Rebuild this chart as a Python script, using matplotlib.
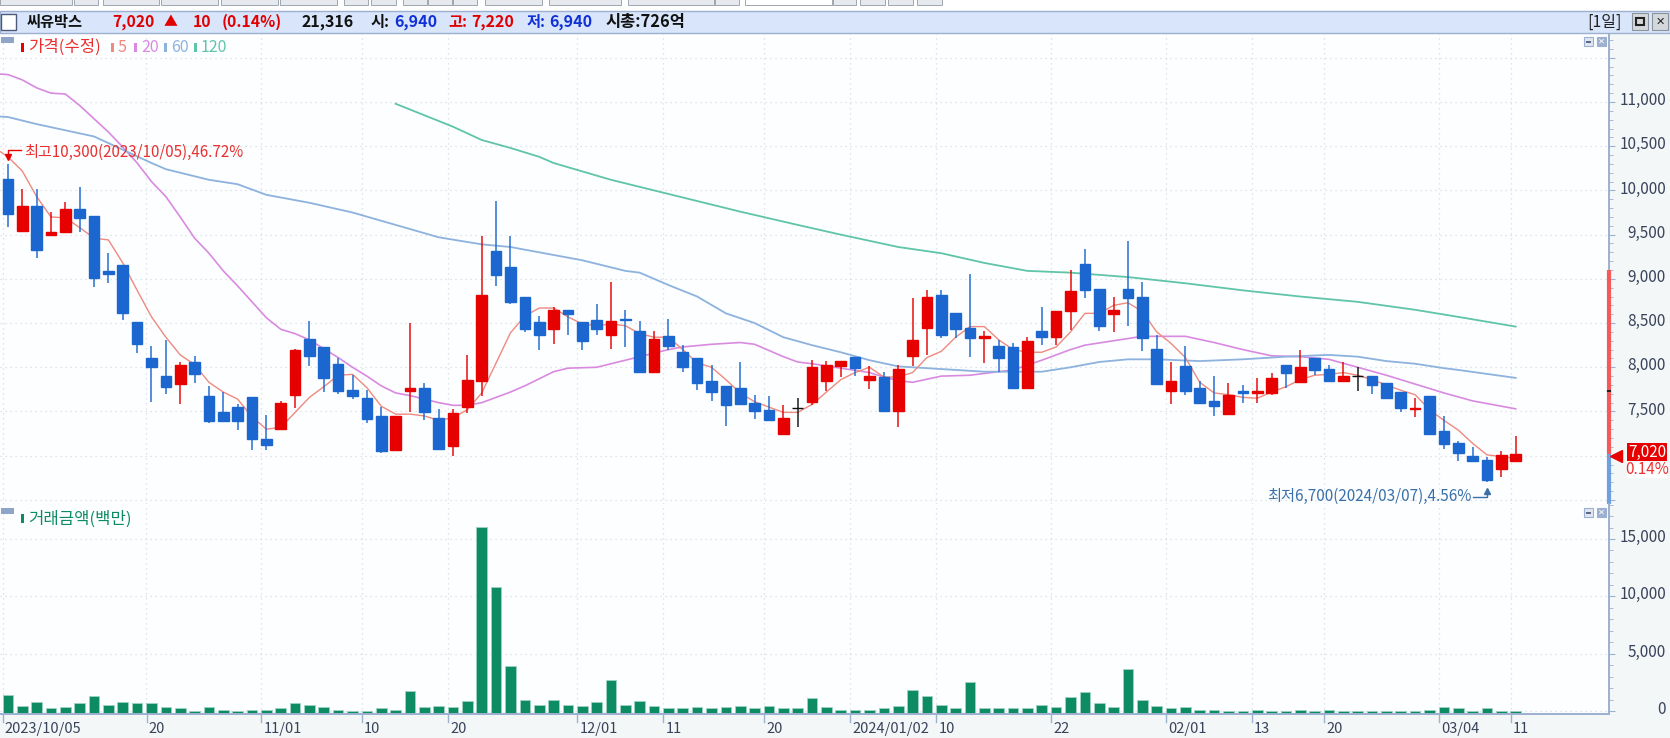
import matplotlib
matplotlib.use('Agg')
import matplotlib.pyplot as plt
from matplotlib.patches import Rectangle
from matplotlib.ticker import MultipleLocator

plt.rcParams['font.family'] = ['Noto Sans CJK KR', 'DejaVu Sans']

opens = [
  10130, 9540, 9820, 9500, 9530, 9790, 9710, 9090, 9160, 8510,
  8110, 7900, 7810, 8060, 7680, 7490, 7550, 7660, 7190, 7300,
  7690, 8320, 8230, 8040, 7740, 7650, 7450, 7070, 7730, 7770,
  7430, 7110, 7550, 7850, 9320, 9130, 8800, 8510, 8430, 8650,
  8510, 8530, 8360, 8550, 8410, 7950, 8350, 8170, 8100, 7850,
  7790, 7770, 7600, 7520, 7250, 7540, 7610, 7850, 8010, 8120,
  7860, 7890, 7510, 8130, 8440, 8820, 8610, 8440, 8330, 8240,
  8230, 7770, 8410, 8340, 8640, 9170, 8890, 8600, 8890, 8790,
  8210, 7730, 8010, 7770, 7620, 7470, 7730, 7710, 7710, 8030,
  7830, 8100, 7980, 7850, 7900, 7900, 7820, 7720, 7530, 7670,
  7280, 7140, 7000, 6950, 6850, 6940]
highs = [
  10300, 10020, 10020, 9760, 9870, 10040, 9710, 9290, 9160, 8510,
  8240, 8310, 8060, 8130, 7790, 7720, 7590, 7660, 7460, 7620,
  8210, 8520, 8230, 8100, 7910, 7740, 7550, 7450, 8500, 7820,
  7530, 7530, 8140, 9480, 9880, 9480, 8800, 8580, 8680, 8650,
  8510, 8720, 8960, 8650, 8520, 8410, 8550, 8250, 8100, 8030,
  7790, 8060, 7690, 7670, 7570, 7650, 8080, 8070, 8070, 8120,
  8020, 7950, 8030, 8780, 8870, 8870, 8610, 9060, 8410, 8310,
  8270, 8340, 8680, 8640, 9100, 9340, 8890, 8800, 9430, 8960,
  8360, 8060, 8240, 7850, 7900, 7820, 7800, 7880, 7930, 8030,
  8200, 8100, 8030, 8060, 8000, 7900, 7820, 7720, 7650, 7670,
  7450, 7170, 7100, 6980, 7050, 7220]
lows = [
  9590, 9540, 9240, 9500, 9530, 9530, 8910, 8950, 8540, 8160,
  7610, 7700, 7590, 7820, 7370, 7390, 7290, 7060, 7060, 7300,
  7540, 8010, 7720, 7700, 7640, 7370, 7030, 7070, 7490, 7400,
  7080, 7000, 7480, 7680, 8920, 8710, 8400, 8200, 8260, 8360,
  8190, 8370, 8210, 8230, 7950, 7950, 8200, 7950, 7740, 7620,
  7340, 7570, 7410, 7400, 7240, 7320, 7570, 7730, 7890, 7900,
  7760, 7510, 7320, 8010, 8140, 8330, 8330, 8120, 8050, 7950,
  7770, 7770, 8250, 8250, 8420, 8780, 8410, 8400, 8470, 8180,
  7810, 7590, 7690, 7590, 7450, 7470, 7600, 7600, 7690, 7770,
  7820, 7910, 7850, 7830, 7730, 7700, 7650, 7490, 7440, 7250,
  7080, 6940, 6940, 6700, 6760, 6940]
closes = [
  9730, 9820, 9330, 9530, 9790, 9690, 9010, 9050, 8610, 8260,
  8000, 7780, 8030, 7920, 7390, 7390, 7390, 7190, 7120, 7600,
  8200, 8130, 7880, 7730, 7680, 7410, 7050, 7450, 7770, 7490,
  7080, 7480, 7860, 8820, 9040, 8740, 8430, 8360, 8650, 8600,
  8300, 8430, 8520, 8540, 7950, 8320, 8240, 8000, 7820, 7720,
  7570, 7590, 7510, 7400, 7430, 7540, 8000, 8030, 8070, 7990,
  7900, 7510, 7980, 8310, 8800, 8370, 8430, 8330, 8350, 8100,
  7770, 8300, 8340, 8640, 8860, 8870, 8470, 8650, 8780, 8330,
  7810, 7840, 7730, 7600, 7560, 7690, 7710, 7730, 7880, 7930,
  8000, 7970, 7850, 7900, 7900, 7800, 7650, 7540, 7540, 7250,
  7130, 7030, 6940, 6720, 7010, 7020]

# moving averages start one session left of the first candle, the line runs off the panel
ma5 = [
  10490, 10380, 10220, 9930, 9700, 9690, 9580, 9460, 9440, 9180, 8870,
  8570, 8340, 8140, 8030, 7830, 7720, 7640, 7440, 7300, 7320,
  7490, 7660, 7780, 7910, 7920, 7770, 7560, 7470, 7470, 7450,
  7400, 7430, 7520, 7710, 8050, 8390, 8580, 8670, 8670, 8570,
  8490, 8470, 8490, 8470, 8380, 8340, 8340, 8200, 8050, 8000,
  7860, 7710, 7610, 7550, 7490, 7490, 7580, 7720, 7860, 7940,
  8000, 7890, 7890, 7940, 8110, 8180, 8340, 8460, 8460, 8310,
  8200, 8170, 8170, 8230, 8400, 8610, 8610, 8700, 8730, 8630,
  8400, 8270, 8110, 7830, 7710, 7690, 7660, 7650, 7720, 7780,
  7860, 7910, 7920, 7940, 7910, 7860, 7800, 7740, 7690, 7520,
  7400, 7290, 7140, 7010, 6990, 6970]

ma20_idx = [
  -1, 0, 1, 2, 3, 4, 5, 6, 7, 8, 9, 10, 11, 12, 13, 14, 15, 16, 17, 18,
  19, 20, 21, 22, 23, 24, 25, 26, 27, 28, 29, 30, 31, 32, 33, 34, 35, 36, 37, 38,
  39, 41, 43, 44, 46, 47, 49, 51, 52, 54, 55, 56, 58, 60, 61, 62, 63, 65,
  67, 69, 70, 72, 74, 75, 77, 79, 81, 82, 84, 86, 88, 90, 92, 94, 96, 98, 100, 102, 105]
ma20 = [
  11320, 11310, 11250, 11160, 11100, 11090, 10960, 10810, 10660, 10490, 10310, 10100, 9930, 9700, 9460, 9290, 9090, 8920, 8740, 8560,
  8430, 8380, 8310, 8210, 8110, 8000, 7900, 7790, 7710, 7680, 7640, 7600, 7570, 7570, 7600, 7660, 7720, 7790, 7870, 7950,
  7990, 8000, 8080, 8120, 8200, 8230, 8260, 8280, 8260, 8120, 8060, 8040, 7990, 7940, 7890, 7850, 7830, 7900,
  7910, 7950, 7970, 8080, 8200, 8250, 8300, 8350, 8350, 8350, 8280, 8200, 8130, 8120, 8090, 8000, 7910, 7810, 7710, 7620, 7530]

ma60_idx = [
  -1, 0, 2, 6, 8, 10, 11, 14, 16, 18, 21, 24, 27, 30, 33, 35, 38, 40, 43, 44, 46,
  48, 50, 52, 54, 56, 58, 60, 62, 64, 66, 68, 70, 72, 74, 76, 78, 80, 83, 86, 89,
  92, 94, 96, 98, 100, 101, 105]
ma60 = [
  10840, 10830, 10750, 10610, 10460, 10310, 10240, 10120, 10070, 9950, 9860, 9750, 9610, 9470, 9390, 9360, 9270, 9210, 9090, 9070, 8930,
  8800, 8610, 8500, 8340, 8250, 8170, 8080, 8010, 7990, 7970, 7950, 7950, 7950, 8000, 8060, 8090, 8090, 8070, 8090, 8120,
  8140, 8120, 8070, 8040, 7990, 7970, 7880]

ma120_idx = [
  27, 29, 31, 33, 35, 37, 38, 42, 45, 48, 51, 55, 58, 62, 65, 68, 71, 74, 78, 82,
  86, 90, 94, 98, 101, 105]
ma120 = [
  10980, 10850, 10720, 10570, 10480, 10380, 10310, 10120, 10000, 9880, 9760, 9610, 9500, 9360, 9290, 9180, 9090, 9070, 9020, 8950,
  8870, 8800, 8740, 8650, 8570, 8460]

volumes = [
  1435, 450, 797, 246, 362, 681, 1319, 565, 797, 681,
  681, 362, 246, 30, 362, 130, 20, 130, 130, 246,
  681, 565, 362, 130, 30, 30, 246, 130, 1755, 362,
  450, 362, 885, 16015, 10797, 3928, 1000, 565, 1000, 565,
  450, 800, 2740, 565, 913, 450, 246, 246, 362, 246,
  362, 450, 246, 450, 246, 246, 1115, 362, 130, 130,
  130, 246, 450, 1870, 1320, 565, 246, 2540, 246, 246,
  246, 246, 565, 362, 1235, 1670, 680, 362, 3640, 1000,
  450, 246, 362, 130, 130, 20, 10, 130, 20, 20,
  130, 20, 130, 20, 20, 20, 20, 10, 20, 130,
  362, 246, 20, 246, 20, 10]

tick_idx = [0, 10, 18, 25, 31, 40, 46, 53, 59, 65, 73, 81, 87, 92, 100, 105]
tick_labels = ['2023/10/05', '20', '11/01', '10', '20', '12/01', '11', '20', '2024/01/02',
               '10', '22', '02/01', '13', '20', '03/04', '11']
price_labels = [7500, 8000, 8500, 9000, 9500, 10000, 10500, 11000]
volume_labels = [0, 5000, 10000, 15000]

WIDTH, HEIGHT = 1670, 738
RED = '#e60000'
BLUE = '#1c66d0'
GREEN = '#0d8c63'
MA_COLORS = {'ma5': '#ee8a7e', 'ma20': '#d98ae0', 'ma60': '#8db2de', 'ma120': '#5fc4a8'}
AXIS_COLOR = '#9db0cf'
LABEL_COLOR = '#39435a'
PANEL_BG = '#fcfeff'
SIDE_BG = '#f4f7f8'
GRID_COLOR = '#d8dcdf'


def pixel_axes(left, top, right, bottom):
  return plt.gcf().add_axes([left / WIDTH, 1 - bottom / HEIGHT, (right - left) / WIDTH, (bottom - top) / HEIGHT])


def style_panel(ax, major, minor, labels):
  ax.set_facecolor(PANEL_BG)
  ax.set_xlim(-0.55, 111.5)
  for side in ['left', 'top', 'bottom']:
    ax.spines[side].set_visible(False)
  ax.spines['right'].set_color(AXIS_COLOR)
  ax.spines['right'].set_linewidth(1.4)
  ax.yaxis.tick_right()
  ax.yaxis.set_major_locator(MultipleLocator(major))
  ax.yaxis.set_minor_locator(MultipleLocator(minor))
  ax.tick_params(axis='y', which='major', length=4, color=AXIS_COLOR, labelright=False)
  ax.tick_params(axis='y', which='minor', length=3, color=AXIS_COLOR)
  ax.set_xticks([i - 0.35 for i in tick_idx])
  ax.set_xticklabels([])
  ax.tick_params(axis='x', length=0)
  ax.grid(True, axis='both', which='major', color=GRID_COLOR, linestyle=(0, (1, 3)), linewidth=0.9)
  ax.set_axisbelow(True)
  for value in labels:
    ax.annotate(f'{value:,}', xy=(1, value), xycoords=ax.get_yaxis_transform(), xytext=(41, 1),
                textcoords='offset points', ha='right', va='center', fontsize=11, color=LABEL_COLOR)


def draw_candles(ax):
  for i in range(len(opens)):
    if closes[i] > opens[i]:
      color = RED
    elif closes[i] < opens[i]:
      color = BLUE
    else:
      color = '#111111'
    ax.vlines(i, lows[i], highs[i], color=color, linewidth=1.3, alpha=0.8, zorder=4)
    bottom = min(opens[i], closes[i])
    height = abs(closes[i] - opens[i])
    ax.bar(i, height, width=0.74, bottom=bottom, color=color, edgecolor=color, linewidth=1.0, zorder=5)


def draw_price_panel():
  ax = pixel_axes(0, 33, 1609, 504)
  ax.set_ylim(6454, 11780)
  style_panel(ax, 500, 100, price_labels)
  ax.plot(range(-1, len(ma5) - 1), ma5, color=MA_COLORS['ma5'], linewidth=1.0, zorder=3)
  ax.plot(ma20_idx, ma20, color=MA_COLORS['ma20'], linewidth=1.2, zorder=2)
  ax.plot(ma60_idx, ma60, color=MA_COLORS['ma60'], linewidth=1.3, zorder=2)
  ax.plot(ma120_idx, ma120, color=MA_COLORS['ma120'], linewidth=1.3, zorder=2)
  draw_candles(ax)
  # current price strip on the axis line
  ax.plot([111.5, 111.5], [7020, 9100], color='#f45a5a', linewidth=3, clip_on=False, zorder=6, solid_capstyle='butt')
  ax.plot([111.5, 111.5], [6454, 7020], color='#6ea0e0', linewidth=3, clip_on=False, zorder=6, solid_capstyle='butt')
  ax.plot([111.5, 111.5], [7720, 7740], color='#222222', linewidth=3, clip_on=False, zorder=7, solid_capstyle='butt')
  return ax


def draw_volume_panel():
  ax = pixel_axes(0, 504, 1609, 714)
  floor = -262
  ax.set_ylim(floor, 18050)
  style_panel(ax, 5000, 1000, volume_labels)
  ax.bar(range(len(volumes)), [v - floor for v in volumes], width=0.74, bottom=floor, color=GREEN,
         edgecolor='#9fd4c0', linewidth=0.6, zorder=3)
  ax.spines['bottom'].set_visible(True)
  ax.spines['bottom'].set_color(AXIS_COLOR)
  ax.spines['bottom'].set_linewidth(1.4)
  ax.spines['bottom'].set_zorder(6)
  return ax


def box(ui, x0, y0, x1, y1, face, edge='none', lw=0.0):
  ui.add_patch(Rectangle((x0, y0), x1 - x0, y1 - y0, facecolor=face, edgecolor=edge, linewidth=lw))


def label(ui, x, y, text, color='#000000', size=10.5, weight='normal', ha='left'):
  ui.text(x, y, text, color=color, fontsize=size, fontweight=weight, ha=ha, va='center')


def draw_chrome(ui):
  ui.set_xlim(0, WIDTH)
  ui.set_ylim(HEIGHT, 0)
  ui.axis('off')
  ui.patch.set_alpha(0)

  # toolbar buttons cut by the top edge
  for x0, x1 in [(0, 72), (74, 98), (103, 159), (161, 218), (221, 278), (280, 337), (344, 368),
                 (371, 396), (403, 427), (428, 452), (453, 477), (485, 542), (549, 621),
                 (628, 714), (715, 739), (833, 856), (860, 885), (888, 913), (917, 942)]:
    box(ui, x0, -2, x1, 5, '#e6e9ee', '#9ea6b0', 0.7)
  box(ui, 745, -2, 832, 5, '#ffffff', '#9ea6b0', 0.7)

  # title band
  box(ui, 0, 11, WIDTH, 33, '#d8e5fb', AXIS_COLOR, 1.0)
  box(ui, 1, 14, 16, 30, '#ffffff', '#4a5a78', 1.0)
  label(ui, 27, 22, '씨유박스', '#111111', 11, 'bold')
  label(ui, 112, 22, '7,020', '#e00000', 11.3, 'bold')
  label(ui, 164, 22, '▲', '#e00000', 10, 'bold')
  label(ui, 193, 22, '10', '#e00000', 11.3, 'bold')
  label(ui, 222, 22, '(0.14%)', '#e00000', 11.3, 'bold')
  label(ui, 301, 22, '21,316', '#111111', 11.5, 'bold')
  label(ui, 371, 22, '시:', '#111111', 11, 'bold')
  label(ui, 394, 22, '6,940', '#1030d8', 11.5, 'bold')
  label(ui, 448, 22, '고:', '#e00000', 11, 'bold')
  label(ui, 471, 22, '7,220', '#e00000', 11.5, 'bold')
  label(ui, 527, 22, '저:', '#1030d8', 11, 'bold')
  label(ui, 549, 22, '6,940', '#1030d8', 11.5, 'bold')
  label(ui, 606, 22, '시총:726억', '#111111', 11.8, 'bold')
  label(ui, 1587, 22, '[1일]', '#222222', 11.5)
  for x0 in [1632, 1652]:
    box(ui, x0, 13, x0 + 16, 30, '#d4d8dc', '#8a929c', 0.8)
  box(ui, 1636, 18, 1644, 25, '#d4d8dc', '#222222', 1.5)
  label(ui, 1660, 21.5, '✕', '#222222', 8, 'bold', 'center')

  # panel buttons and swatches
  for y0 in [37, 508]:
    box(ui, 1584, y0, 1593, y0 + 9, '#dfe6f0', '#9db0cf', 0.8)
    box(ui, 1597, y0, 1606, y0 + 9, '#9db0cf', '#9db0cf', 0.8)
    box(ui, 1586, y0 + 4, 1591, y0 + 6, '#5a6a88')
    label(ui, 1601.5, y0 + 4.2, '✕', '#ffffff', 6, 'bold', 'center')
  box(ui, 1, 37, 14, 43, '#8fa5c8')
  box(ui, 1, 508, 14, 514, '#8fa5c8')

  # legend of the price panel
  box(ui, 21, 43, 24, 52, RED)
  label(ui, 28, 47, '가격(수정)', '#ec3030', 12)
  for x, text, color in [(111, '5', MA_COLORS['ma5']), (134, '20', MA_COLORS['ma20']),
                         (164, '60', MA_COLORS['ma60']), (194, '120', MA_COLORS['ma120'])]:
    box(ui, x, 43, x + 3, 52, color)
    label(ui, x + 7, 47, text, color, 11.5)

  # legend of the volume panel
  box(ui, 21, 514, 24, 523, GREEN)
  label(ui, 28, 519, '거래금액(백만)', GREEN, 12)

  # high and low notes
  label(ui, 24, 152, '최고10,300(2023/10/05),46.72%', '#e83030', 10.9)
  ui.plot([21, 8, 8], [150, 150, 156], color=RED, linewidth=1)
  ui.plot([8], [157], marker='v', markersize=4, color=RED)
  label(ui, 1267, 496, '최저6,700(2024/03/07),4.56%', '#3a70aa', 11)
  ui.plot([1473, 1487, 1487], [497, 497, 492], color='#3a70aa', linewidth=1)
  ui.plot([1487], [491], marker='^', markersize=4, color='#3a70aa')

  # current price tag
  ui.plot([1616], [456], marker='<', markersize=8, color=RED, clip_on=False)
  box(ui, 1627, 443, 1667, 461, RED)
  label(ui, 1647, 452, '7,020', '#ffffff', 11, 'normal', 'center')
  box(ui, 1627, 462, 1667, 478, '#ffffff')
  label(ui, 1647, 470, '0.14%', '#f03030', 11, 'normal', 'center')

  # date axis
  for i, text in zip(tick_idx, tick_labels):
    x = 7.9 + 14.36 * i - 5
    ui.plot([x, x], [714, 722], color=AXIS_COLOR, linewidth=1)
    label(ui, x + 2, 729, text, LABEL_COLOR, 10.5)


def main():
  fig = plt.figure(figsize=(WIDTH / 100, HEIGHT / 100), dpi=100, facecolor=SIDE_BG)
  box_ax = fig.add_axes([0, 1 - 11 / HEIGHT, 1, 11 / HEIGHT])
  box_ax.set_facecolor('#ffffff')
  box_ax.set_xticks([])
  box_ax.set_yticks([])
  for spine in box_ax.spines.values():
    spine.set_visible(False)
  draw_price_panel()
  draw_volume_panel()
  ui = fig.add_axes([0, 0, 1, 1], zorder=10)
  draw_chrome(ui)
  fig.savefig('out.png', dpi=100, facecolor=fig.get_facecolor())


if __name__ == '__main__':
  main()
